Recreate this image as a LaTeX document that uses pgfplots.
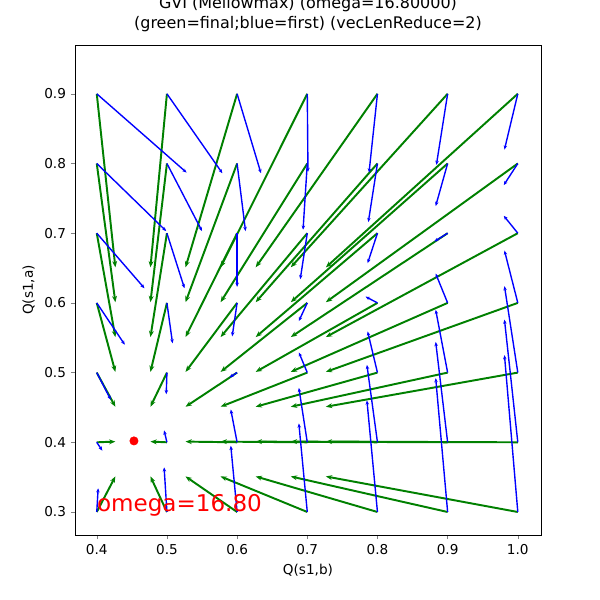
\documentclass[border=0pt]{standalone}
\usepackage{pgfplots}
\pgfplotsset{compat=1.18}
\usetikzlibrary{arrows.meta}
\usepackage{fontspec}
\setmainfont{DejaVu Sans}
\pgfplotstableread{
x y u v
0.4 0.9 0.128 -0.113
0.4 0.8 0.099 -0.097
0.4 0.7 0.068 -0.079
0.4 0.6 0.040 -0.060
0.4 0.5 0.020 -0.039
0.4 0.4 0.008 -0.012
0.4 0.3 0.002 0.034
0.5 0.9 0.079 -0.114
0.5 0.8 0.050 -0.097
0.5 0.7 0.025 -0.079
0.5 0.6 0.008 -0.058
0.5 0.5 -0.001 -0.031
0.5 0.4 -0.004 0.017
0.5 0.3 -0.004 0.064
0.6 0.9 0.034 -0.114
0.6 0.8 0.012 -0.097
0.6 0.7 0.000 -0.077
0.6 0.6 -0.007 -0.048
0.6 0.5 -0.011 -0.007
0.6 0.4 -0.009 0.047
0.6 0.3 -0.009 0.095
0.7 0.9 0.001 -0.112
0.7 0.8 -0.006 -0.095
0.7 0.7 -0.010 -0.066
0.7 0.6 -0.012 -0.026
0.7 0.5 -0.012 0.029
0.7 0.4 -0.012 0.078
0.7 0.3 -0.012 0.127
0.8 0.9 -0.012 -0.113
0.8 0.8 -0.013 -0.084
0.8 0.7 -0.014 -0.043
0.8 0.6 -0.017 0.009
0.8 0.5 -0.014 0.059
0.8 0.4 -0.015 0.111
0.8 0.3 -0.015 0.160
0.9 0.9 -0.016 -0.102
0.9 0.8 -0.017 -0.061
0.9 0.7 -0.019 -0.012
0.9 0.6 -0.017 0.042
0.9 0.5 -0.017 0.090
0.9 0.4 -0.017 0.144
0.9 0.3 -0.017 0.192
1.0 0.9 -0.019 -0.080
1.0 0.8 -0.020 -0.031
1.0 0.7 -0.020 0.025
1.0 0.6 -0.019 0.075
1.0 0.5 -0.019 0.124
1.0 0.4 -0.019 0.176
1.0 0.3 -0.019 0.225
}\bluetab
\pgfplotstableread{
x y u v
0.4 0.9 0.0265 -0.249
0.4 0.8 0.0265 -0.199
0.4 0.7 0.0265 -0.149
0.4 0.6 0.0265 -0.099
0.4 0.5 0.0265 -0.049
0.4 0.4 0.0265 0.001
0.4 0.3 0.0265 0.051
0.5 0.9 -0.0235 -0.249
0.5 0.8 -0.0235 -0.199
0.5 0.7 -0.0235 -0.149
0.5 0.6 -0.0235 -0.099
0.5 0.5 -0.0235 -0.049
0.5 0.4 -0.0235 0.001
0.5 0.3 -0.0235 0.051
0.6 0.9 -0.0735 -0.249
0.6 0.8 -0.0735 -0.199
0.6 0.7 -0.0735 -0.149
0.6 0.6 -0.0735 -0.099
0.6 0.5 -0.0735 -0.049
0.6 0.4 -0.0735 0.001
0.6 0.3 -0.0735 0.051
0.7 0.9 -0.1235 -0.249
0.7 0.8 -0.1235 -0.199
0.7 0.7 -0.1235 -0.149
0.7 0.6 -0.1235 -0.099
0.7 0.5 -0.1235 -0.049
0.7 0.4 -0.1235 0.001
0.7 0.3 -0.1235 0.051
0.8 0.9 -0.1735 -0.249
0.8 0.8 -0.1735 -0.199
0.8 0.7 -0.1735 -0.149
0.8 0.6 -0.1735 -0.099
0.8 0.5 -0.1735 -0.049
0.8 0.4 -0.1735 0.001
0.8 0.3 -0.1735 0.051
0.9 0.9 -0.2235 -0.249
0.9 0.8 -0.2235 -0.199
0.9 0.7 -0.2235 -0.149
0.9 0.6 -0.2235 -0.099
0.9 0.5 -0.2235 -0.049
0.9 0.4 -0.2235 0.001
0.9 0.3 -0.2235 0.051
1.0 0.9 -0.2735 -0.249
1.0 0.8 -0.2735 -0.199
1.0 0.7 -0.2735 -0.149
1.0 0.6 -0.2735 -0.099
1.0 0.5 -0.2735 -0.049
1.0 0.4 -0.2735 0.001
1.0 0.3 -0.2735 0.051
}\greentab
\definecolor{mgreen}{RGB}{0,128,0}
\definecolor{mred}{RGB}{255,0,0}
\begin{document}
\begin{tikzpicture}
\useasboundingbox (-54pt,-46.8pt) rectangle (378pt,385.2pt);
\begin{axis}[at={(0,0)},anchor=south west,
  scale only axis, width=335.5pt, height=352.8pt,
  xmin=0.369, xmax=1.033, ymin=0.267, ymax=0.970,
  xtick={0.4,0.5,...,1.0}, ytick={0.3,0.4,...,0.9},
  xtick pos=left, ytick pos=left,
  /pgf/number format/assume math mode=true,
  /pgf/number format/.cd, fixed, fixed zerofill, precision=1, /pgfplots/.cd,
  ticklabel style={font=\fontsize{9.8}{11}\selectfont},
  tick align=outside, major tick length=3pt,
  xlabel={Q(s1,b)}, ylabel={Q(s1,a)},
  label style={font=\fontsize{9.8}{11}\selectfont},
  title style={font=\fontsize{11.5}{14}\selectfont, align=center},
  title={GVI (Mellowmax) (omega=16.80000)\\(green=final;blue=first) (vecLenReduce=2)},
  clip=false]
\addplot[mgreen, line width=1.4pt, -{Stealth[length=4.5pt,width=3.5pt]},
  quiver={u=\thisrow{u},v=\thisrow{v}}] table[x=x,y=y] {\greentab};
\addplot[blue, line width=1pt, -{Stealth[length=3pt,width=2.5pt]},
  quiver={u=\thisrow{u},v=\thisrow{v}}] table[x=x,y=y] {\bluetab};
\addplot[only marks, mark=*, mark size=3pt, mred] coordinates {(0.453,0.402)};
\node[anchor=base west, inner sep=0pt, text=mred, font=\fontsize{16.6}{18}\selectfont] at (axis cs:0.4,0.3) {omega=16.80};
\end{axis}
\end{tikzpicture}
\end{document}
